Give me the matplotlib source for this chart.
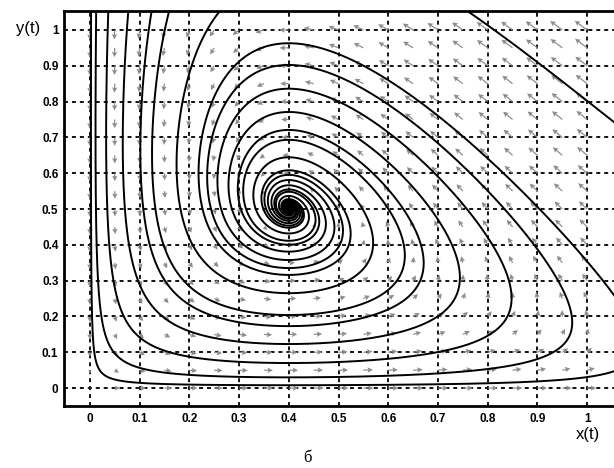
import numpy as np
import matplotlib.pyplot as plt

# predator-prey model with logistic prey growth
# dx/dt = x*(a*(1 - x/K) - b*y),  dy/dt = y*(d*x - c)
a = 1.0
K = 1.3
b = 1.385
d = 2.0
c = 0.8
equilibrium = (0.4, 0.5)

seed_x = [0.4, 0.4, 0.4, 0.4, 0.4, 0.4, 0.4, 0.4, 0.9]
seed_y = [0.008, 0.03, 0.07, 0.123, 0.173, 0.204, 0.265, 0.316, 0.91]

x_ticks = [0, 0.1, 0.2, 0.3, 0.4, 0.5, 0.6, 0.7, 0.8, 0.9, 1.0]
y_ticks = [0, 0.1, 0.2, 0.3, 0.4, 0.5, 0.6, 0.7, 0.8, 0.9, 1.0]
x_labels = ["0", "0.1", "0.2", "0.3", "0.4", "0.5", "0.6", "0.7", "0.8", "0.9", "1"]
y_labels = ["0", "0.1", "0.2", "0.3", "0.4", "0.5", "0.6", "0.7", "0.8", "0.9", "1"]

xlim = (-0.052, 1.054)
ylim = (-0.05, 1.053)


def field(x, y):
    u = x * (a * (1 - x / K) - b * y)
    v = y * (d * x - c)
    return u, v


def integrate(x0, y0, dt, T=200.0):
    xs, ys = [x0], [y0]
    x, y = x0, y0
    for _ in range(int(T / abs(dt))):
        k1 = field(x, y)
        k2 = field(x + dt / 2 * k1[0], y + dt / 2 * k1[1])
        k3 = field(x + dt / 2 * k2[0], y + dt / 2 * k2[1])
        k4 = field(x + dt * k3[0], y + dt * k3[1])
        x = x + dt / 6 * (k1[0] + 2 * k2[0] + 2 * k3[0] + k4[0])
        y = y + dt / 6 * (k1[1] + 2 * k2[1] + 2 * k3[1] + k4[1])
        xs.append(x)
        ys.append(y)
        if x > xlim[1] + 0.01 or y > ylim[1] + 0.01:
            break
        if np.hypot(x - equilibrium[0], y - equilibrium[1]) < 0.002:
            break
    return np.array(xs), np.array(ys)


def trajectory(x0, y0):
    bx, by = integrate(x0, y0, -0.005)
    fx, fy = integrate(x0, y0, 0.005)
    return np.concatenate([bx[::-1], fx[1:]]), np.concatenate([by[::-1], fy[1:]])


fig = plt.figure(figsize=(6.14, 4.68), dpi=100)
ax = fig.add_axes([64 / 614, 62 / 468, 550 / 614, 395 / 468])

# direction field, arrow length grows slowly with speed
gx, gy = np.meshgrid(np.arange(0, 1.0001, 0.05), np.arange(0, 1.0001, 0.05))
gu, gv = field(gx, gy)
speed = np.hypot(gu, gv)
speed[speed == 0] = 1e-12
length = 0.036 * (speed / speed.max()) ** 0.35
ax.quiver(gx, gy, gu / speed * length, gv / speed * length,
          angles="xy", scale_units="xy", scale=1,
          color="#8c8c8c", width=0.0022, headwidth=4.5, headlength=4.5,
          headaxislength=3.8, zorder=2)

for x0, y0 in zip(seed_x, seed_y):
    tx, ty = trajectory(x0, y0)
    ax.plot(tx, ty, color="black", linewidth=1.4, zorder=3)

ax.plot(*equilibrium, "o", color="black", markersize=6, zorder=4)

ax.set_xlim(*xlim)
ax.set_ylim(*ylim)
ax.set_xticks(x_ticks)
ax.set_yticks(y_ticks)
ax.set_xticklabels(x_labels, fontweight="bold", fontsize=8.5, family="Liberation Sans")
ax.set_yticklabels(y_labels, fontweight="bold", fontsize=8.5, family="Liberation Sans")
ax.tick_params(axis="x", length=0, pad=5)
ax.tick_params(axis="y", length=0, pad=4)
ax.grid(True, color="black", linestyle=(0, (2.2, 2.2)), linewidth=1.3)
ax.set_axisbelow(True)
for side in ["left", "top", "bottom"]:
    ax.spines[side].set_linewidth(2.0)
ax.spines["right"].set_visible(False)

fig.text(16 / 614, 1 - 28 / 468, "y(t)", fontsize=12, family="Liberation Sans", va="center")
fig.text(576 / 614, 1 - 434 / 468, "x(t)", fontsize=12, family="Liberation Sans", va="center")
fig.text(307 / 614, 1 - 458 / 468, "б", fontsize=12, family="Liberation Serif",
         ha="center", va="center")

plt.savefig("out.png", dpi=100)
